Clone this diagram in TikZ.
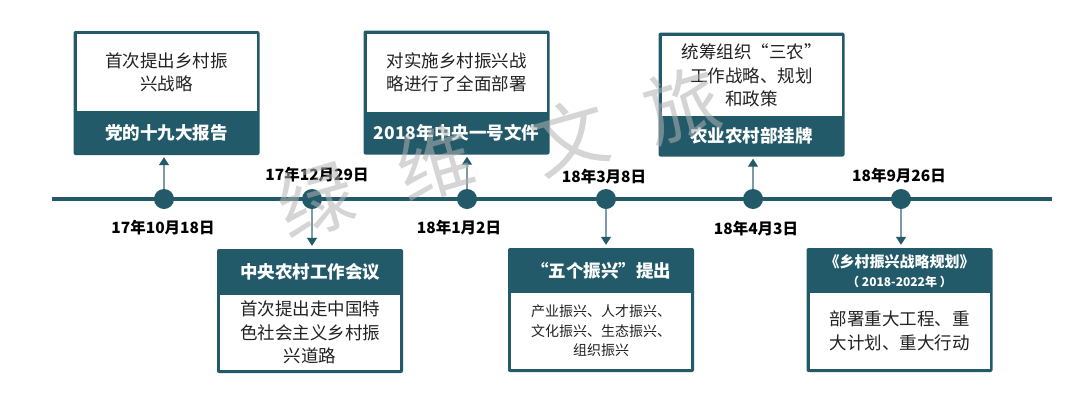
\documentclass[tikz,border=0pt]{standalone}
\usepackage{fontspec}
\setmainfont{Noto Sans CJK SC}
\usepackage{xcolor}
\usepackage{tikz}
\usetikzlibrary{arrows.meta, positioning}

\definecolor{ruralteal}{HTML}{235A69}
\definecolor{bodygrey}{HTML}{222222}

\begin{document}
\begin{tikzpicture}[x=1pt, y=-1pt,
    every node/.style={inner sep=0pt},
    dot/.style={circle, fill=ruralteal, minimum size=20pt},
    datelabel/.style={font=\fontsize{15.5}{18}\selectfont\bfseries, text=black},
    outerbox/.style={fill=ruralteal, rounded corners=2pt, minimum width=186pt, minimum height=124pt},
    innerbox/.style={fill=white, minimum width=180pt, align=center, text=bodygrey,
        font=\fontsize{17.5}{23.5}\selectfont},
    titletext/.style={text=white, align=center, minimum width=186pt,
        font=\fontsize{17.5}{21}\selectfont\bfseries},
    conn/.style={ruralteal!60, line width=1.3pt, -{Triangle[length=8pt, width=10pt, color=ruralteal]}},
    watermark/.style={text=black!30, text opacity=0.55, font=\fontsize{76}{76}\selectfont, rotate=16}
]
    \useasboundingbox (0,0) rectangle (1080,400);

    % timeline
    \coordinate (tlstart) at (52,199);
    \coordinate (tlend) at (1052,199);
    \draw[ruralteal, line width=3.5pt] (tlstart) -- (tlend);

    \foreach \n/\x in {1/164, 2/312, 3/467, 4/606, 5/753, 6/901} {
        \node[dot] (d\n) at (\x,199) {};
    }

    % dates
    \node[datelabel] (date1) at (163,228) {17年10月18日};
    \node[datelabel] (date2) at (317,175) {17年12月29日};
    \node[datelabel] (date3) at (459,228) {18年1月2日};
    \node[datelabel] (date4) at (604,177) {18年3月8日};
    \node[datelabel] (date5) at (756,229) {18年4月3日};
    \node[datelabel] (date6) at (899,176) {18年9月26日};

    % boxes above the line
    \node[outerbox] (b1) at (166.5,93) {};
    \node[innerbox, minimum height=77pt, below=3pt of b1.north] (w1) {首次提出乡村振\\兴战略};
    \node[titletext, minimum height=44pt, anchor=south] (t1) at (b1.south) {党的十九大报告};

    \node[outerbox] (b3) at (456.5,92.5) {};
    \node[innerbox, minimum height=78pt, below=3pt of b3.north] (w3) {对实施乡村振兴战\\略进行了全面部署};
    \node[titletext, minimum height=43pt, anchor=south] (t3) at (b3.south) {2018年中央一号文件};

    \node[outerbox] (b5) at (751.5,94.5) {};
    \node[innerbox, minimum height=80pt, below=3pt of b5.north] (w5) {统筹组织“三农”\\工作战略、规划\\和政策};
    \node[titletext, minimum height=42pt, anchor=south] (t5) at (b5.south) {农业农村部挂牌};

    % boxes below the line
    \node[outerbox] (b2) at (310,311) {};
    \node[titletext, minimum height=46pt, anchor=north] (t2) at (b2.north) {中央农村工作会议};
    \node[innerbox, minimum height=75pt, above=3pt of b2.south] (w2) {首次提出走中国特\\色社会主义乡村振\\兴道路};

    \node[outerbox] (b4) at (601,310) {};
    \node[titletext, minimum height=46pt, anchor=north] (t4) at (b4.north) {“五个振兴”提出};
    \node[innerbox, minimum height=76pt, above=3pt of b4.south,
        font=\fontsize{14}{19.5}\selectfont] (w4) {产业振兴、人才振兴、\\文化振兴、生态振兴、\\组织振兴};

    \node[outerbox] (b6) at (899.5,310) {};
    \node[titletext, minimum height=46pt, anchor=north, font=\fontsize{15}{21}\selectfont\bfseries] (t6) at (b6.north)
        {《乡村振兴战略规划》\\[-2pt]{\fontsize{12}{14}\selectfont（ 2018-2022年 ）}};
    \node[innerbox, minimum height=76pt, above=3pt of b6.south] (w6) {部署重大工程、重\\大计划、重大行动};

    % connectors
    \draw[conn, shorten >=2pt] (d1) -- (d1 |- b1.south);
    \draw[conn, shorten >=2pt] (d3) -- (d3 |- b3.south);
    \draw[conn, shorten >=2pt] (d5) -- (d5 |- b5.south);
    \draw[conn, shorten >=3pt] (d2) -- (d2 |- b2.north);
    \draw[conn, shorten >=3pt] (d4) -- (d4 |- b4.north);
    \draw[conn, shorten >=3pt] (d6) -- (d6 |- b6.north);

    % watermark on top
    \node[watermark] (wm1) at (316,200) {绿};
    \node[watermark] (wm2) at (435,163) {维};
    \node[watermark] (wm3) at (570,137) {文};
    \node[watermark] (wm4) at (682,105) {旅};
\end{tikzpicture}
\end{document}
